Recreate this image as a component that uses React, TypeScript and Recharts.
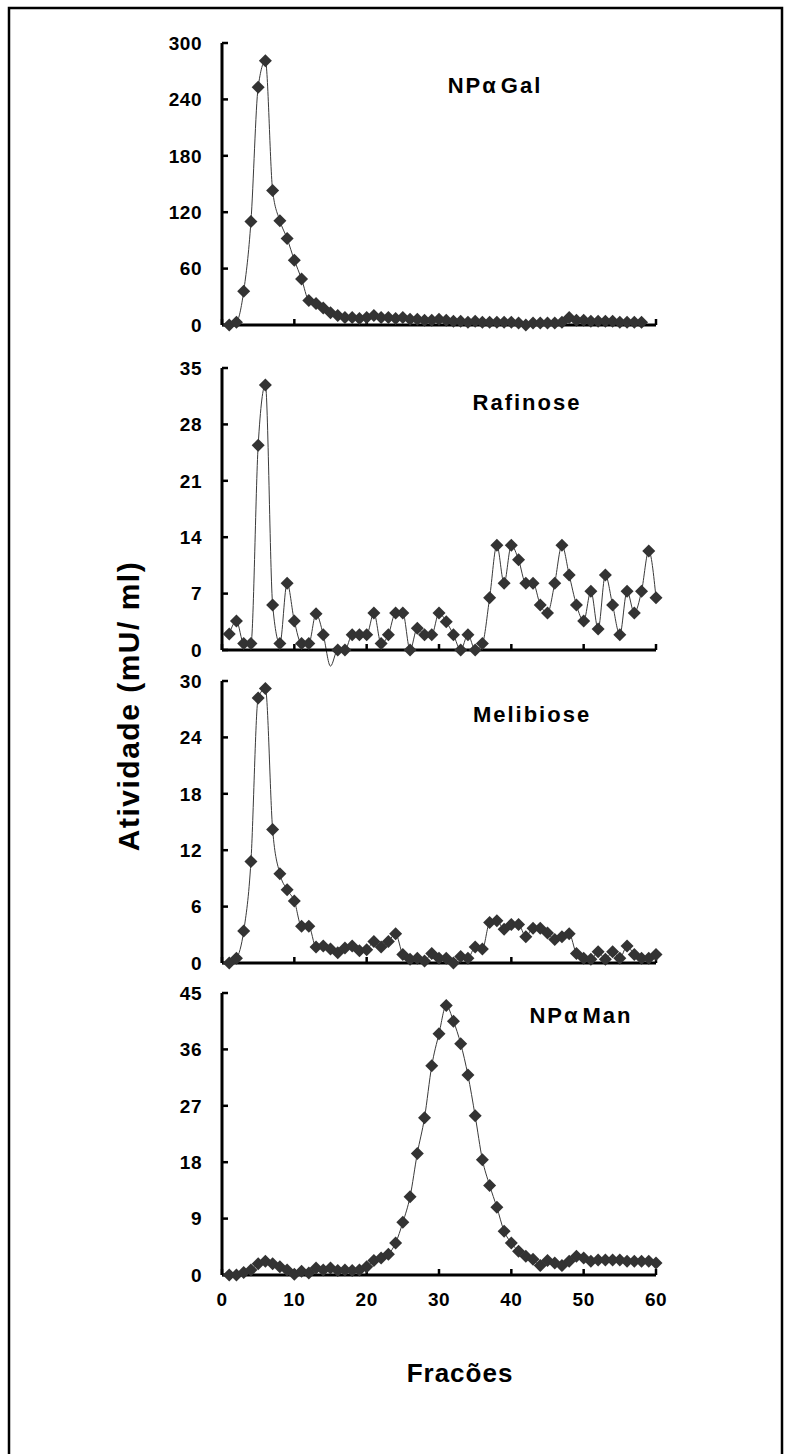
import React from 'react';
import { LineChart, Line, XAxis, YAxis } from 'recharts';

// fraction numbers (x)
const FRACTIONS = [
    1, 2, 3, 4, 5, 6, 7, 8, 9, 10, 11, 12, 13, 14, 15, 16, 17, 18, 19, 20,
    21, 22, 23, 24, 25, 26, 27, 28, 29, 30, 31, 32, 33, 34, 35, 36, 37, 38, 39, 40,
    41, 42, 43, 44, 45, 46, 47, 48, 49, 50, 51, 52, 53, 54, 55, 56, 57, 58, 59, 60,
];

// activity values (mU/ml), one per fraction
const NP_GAL = [
    0, 3, 36, 110, 253, 281, 143, 111, 92, 69,
    49, 26, 23, 18, 13, 10, 8, 8, 7, 8,
    10, 8, 8, 7, 8, 6, 6, 5, 5, 6,
    5, 4, 4, 3, 4, 3, 3, 3, 3, 3,
    2, 0, 2, 2, 2, 2, 3, 8, 5, 5,
    4, 4, 4, 4, 3, 3, 3, 3,
];
const RAFINOSE = [
    2, 3.6, 0.8, 0.8, 25.4, 32.9, 5.6, 0.8, 8.3, 3.6,
    0.8, 0.8, 4.5, 1.9, -2, 0, 0, 1.9, 1.9, 1.9,
    4.6, 0.8, 1.9, 4.6, 4.6, 0, 2.7, 1.9, 1.9, 4.6,
    3.5, 1.9, 0, 1.9, 0, 0.8, 6.5, 13, 8.3, 13,
    11.2, 8.3, 8.3, 5.6, 4.6, 8.3, 13, 9.3, 5.6, 3.6,
    7.3, 2.6, 9.3, 5.6, 1.9, 7.3, 4.6, 7.3, 12.3, 6.5,
];
const MELIBIOSE = [
    0, 0.5, 3.4, 10.8, 28.2, 29.2, 14.2, 9.5, 7.8, 6.6,
    3.9, 3.9, 1.7, 1.8, 1.5, 1.1, 1.6, 1.8, 1.3, 1.4,
    2.3, 1.7, 2.3, 3.1, 0.9, 0.4, 0.5, 0.2, 1.0, 0.5,
    0.5, 0, 0.7, 0.5, 1.7, 1.5, 4.3, 4.5, 3.6, 4.1,
    4.1, 2.8, 3.7, 3.7, 3.2, 2.5, 2.8, 3.1, 1.0, 0.5,
    0.4, 1.2, 0.4, 1.2, 0.5, 1.8, 0.9, 0.5, 0.5, 0.9,
];
const NP_MAN = [
    0, 0, 0.4, 0.8, 1.8, 2.2, 1.8, 1.3, 0.8, 0.1,
    0.6, 0.3, 1.1, 0.8, 1.1, 0.7, 0.8, 0.7, 0.8, 1.3,
    2.3, 2.7, 3.3, 5.1, 8.4, 12.5, 19.4, 25.1, 33.4, 38.5,
    43.0, 40.5, 36.9, 31.9, 25.4, 18.4, 14.3, 10.8, 7.0, 5.1,
    3.8, 3.0, 2.5, 1.5, 2.3, 1.9, 1.5, 2.2, 3.0, 2.7,
    2.2, 2.4, 2.4, 2.4, 2.4, 2.2, 2.2, 2.2, 2.2, 1.9,
];

const X_TICKS = [0, 10, 20, 30, 40, 50, 60];
const GAL_TICKS = [0, 60, 120, 180, 240, 300];
const RAF_TICKS = [0, 7, 14, 21, 28, 35];
const MEL_TICKS = [0, 6, 12, 18, 24, 30];
const MAN_TICKS = [0, 9, 18, 27, 36, 45];

const FONT = '"Liberation Sans", Arial, Helvetica, sans-serif';
const MARK = '#333333';

const tickStyle = { fontSize: 19, fontWeight: 'bold', fill: '#000', fontFamily: FONT, letterSpacing: 0.5 };

function Diamond(props: any) {
    const { cx, cy, value, index } = props;
    // points below the axis are hidden, as in the original
    if (cx == null || cy == null || value < 0) return <g key={`d-${index}`} />;
    const r = 6.5;
    return (
        <path
            key={`d-${index}`}
            d={`M${cx},${cy - r}L${cx + r},${cy}L${cx},${cy + r}L${cx - r},${cy}Z`}
            fill={MARK}
        />
    );
}

interface PanelProps {
    top: number;
    values: number[];
    ticks: number[];
    showXLabels?: boolean;
    overflow?: boolean;
}

function Panel({ top, values, ticks, showXLabels, overflow }: PanelProps) {
    const data = values.map((v, i) => ({ f: FRACTIONS[i], v }));
    const xH = showXLabels ? 40 : 20;
    return (
        <div className={overflow ? 'noclip' : undefined} style={{ position: 'absolute', left: 0, top: top - 20 }}>
            <LineChart
                width={791}
                height={20 + 282 + xH}
                data={data}
                margin={{ top: 20, right: 135, bottom: 0, left: 0 }}
                style={{ overflow: 'visible' }}
            >
                <XAxis
                    type="number"
                    dataKey="f"
                    domain={[0, 60]}
                    ticks={X_TICKS}
                    interval={0}
                    height={xH}
                    tickSize={-6}
                    tickMargin={24}
                    axisLine={{ stroke: '#000', strokeWidth: 3 }}
                    tickLine={{ stroke: '#000', strokeWidth: 2.5 }}
                    tick={tickStyle}
                    tickFormatter={(t) => (showXLabels ? String(t) : '')}
                />
                <YAxis
                    type="number"
                    domain={[0, ticks[ticks.length - 1]]}
                    ticks={ticks}
                    interval={0}
                    width={222}
                    tickSize={-6}
                    tickMargin={26}
                    allowDataOverflow={!!overflow}
                    axisLine={{ stroke: '#000', strokeWidth: 3 }}
                    tickLine={{ stroke: '#000', strokeWidth: 2.5 }}
                    tick={tickStyle}
                />
                <Line
                    type="monotone"
                    dataKey="v"
                    stroke="#3a3a3a"
                    strokeWidth={1}
                    dot={Diamond}
                    activeDot={false}
                    isAnimationActive={false}
                />
            </LineChart>
        </div>
    );
}

const titleStyle = { fontSize: 22, fontWeight: 'bold', fontFamily: FONT, letterSpacing: 2 } as const;

export default function App() {
    return (
        <div
            style={{
                position: 'absolute',
                left: 0,
                top: 0,
                width: 791,
                height: 1454,
                background: '#fff',
                overflow: 'hidden',
            }}
        >
            <style>{'.noclip [clip-path]{clip-path:none !important;}'}</style>
            <svg width={791} height={1454} style={{ position: 'absolute', left: 0, top: 0 }}>
                <path d="M9,1470 L9,8 L782,8 L782,1470" stroke="#000" strokeWidth={2.5} fill="none" />
                <text x={495} y={93} textAnchor="middle" {...titleStyle}>
                    <tspan>NPα</tspan>
                    <tspan dx={3}>Gal</tspan>
                </text>
                <text x={527} y={410} textAnchor="middle" {...titleStyle}>Rafinose</text>
                <text x={532} y={722} textAnchor="middle" {...titleStyle}>Melibiose</text>
                <text x={581} y={1023} textAnchor="middle" {...titleStyle}>
                    <tspan>NPα</tspan>
                    <tspan dx={3}>Man</tspan>
                </text>
                <text
                    transform="translate(128, 706) rotate(-90)"
                    x={0}
                    y={11}
                    textAnchor="middle"
                    fontSize={30}
                    fontWeight="bold"
                    fontFamily={FONT}
                    letterSpacing={1.5}
                >
                    Atividade (mU/ ml)
                </text>
                <text x={460} y={1382} textAnchor="middle" fontSize={26} fontWeight="bold" fontFamily={FONT} letterSpacing={1}>
                    Fracões
                </text>
            </svg>
            <Panel top={43} values={NP_GAL} ticks={GAL_TICKS} />
            <Panel top={368} values={RAFINOSE} ticks={RAF_TICKS} overflow />
            <Panel top={681} values={MELIBIOSE} ticks={MEL_TICKS} />
            <Panel top={993} values={NP_MAN} ticks={MAN_TICKS} showXLabels />
        </div>
    );
}
